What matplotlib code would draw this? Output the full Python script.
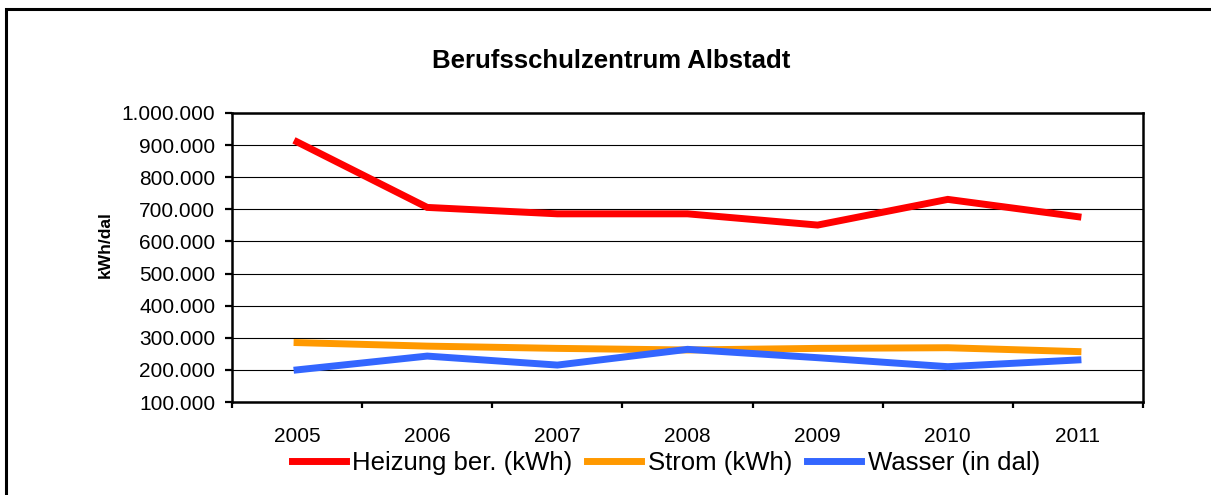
"""Verbrauchswerte Berufsschulzentrum Albstadt 2005-2011.

Erzeugt das Liniendiagramm als out.png.
"""

import matplotlib

matplotlib.use("Agg")

import matplotlib.pyplot as plt
from matplotlib.patches import Rectangle
from matplotlib.ticker import FixedLocator, FuncFormatter


YEARS = ["2005", "2006", "2007", "2008", "2009", "2010", "2011"]

HEIZUNG = [910000, 706000, 686000, 686000, 651000, 731000, 677000]
STROM = [285000, 274000, 267000, 262000, 267000, 269000, 257000]
WASSER = [200000, 243000, 215000, 264000, 238000, 210000, 231000]

SERIES = [
    ("Heizung ber. (kWh)", HEIZUNG, "#FF0000"),
    ("Strom (kWh)", STROM, "#FF9900"),
    ("Wasser (in dal)", WASSER, "#3366FF"),
]

plt.rcParams["font.family"] = ["Liberation Sans", "DejaVu Sans"]


def german_thousands(value, _pos):
    """Formatiert Zahlen mit Punkt als Tausendertrennzeichen."""
    return f"{int(round(value)):,}".replace(",", ".")


def main() -> None:
    fig = plt.figure(figsize=(12.11, 4.95), dpi=100)
    ax = fig.add_axes([232 / 1211, 1 - 402 / 495, 911 / 1211, 289 / 495])

    x = list(range(len(YEARS)))
    handles = []
    for label, values, color in SERIES:
        (line,) = ax.plot(x, values, color=color, linewidth=5,
                          solid_joinstyle="miter", label=label)
        handles.append(line)

    ax.set_xlim(-0.5, len(YEARS) - 0.5)
    ax.set_ylim(100000, 1000000)
    ax.set_yticks(range(100000, 1000001, 100000))
    ax.yaxis.set_major_formatter(FuncFormatter(german_thousands))
    ax.yaxis.grid(True, color="black", linewidth=0.8)
    ax.set_axisbelow(True)

    # Striche zwischen den Jahren, Beschriftung in der Mitte
    ax.xaxis.set_major_locator(FixedLocator([i - 0.5 for i in range(len(YEARS) + 1)]))
    ax.xaxis.set_minor_locator(FixedLocator(x))
    ax.set_xticklabels([], minor=False)
    ax.set_xticklabels(YEARS, minor=True)
    ax.tick_params(axis="x", which="major", direction="out", length=4.5,
                   width=1.6, color="black")
    ax.tick_params(axis="x", which="minor", length=0, pad=18, labelsize=15)
    ax.tick_params(axis="y", direction="out", length=5, width=1.6,
                   pad=7, labelsize=15)

    for spine in ax.spines.values():
        spine.set_linewidth(1.8)
        spine.set_color("black")

    ax.set_ylabel("kWh/dal", fontsize=12.5, fontweight="bold")
    ax.yaxis.set_label_coords(-0.131, 0.545)

    fig.text(611 / 1211, 1 - 61 / 495, "Berufsschulzentrum Albstadt",
             ha="center", va="center", fontsize=18.5, fontweight="bold")

    fig.legend(handles=handles, loc="center", ncol=3,
               bbox_to_anchor=(666 / 1211, 1 - 463 / 495),
               frameon=False, fontsize=18.5, handlelength=2.1,
               handletextpad=0.27, columnspacing=0.57, borderpad=0)

    # Rahmen um das Diagramm, rechts und unten angeschnitten
    border = Rectangle((6 / 1211, -0.1), 1.1, 1.1 - 9 / 495,
                       transform=fig.transFigure, fill=False,
                       edgecolor="black", linewidth=2.2)
    fig.patches.append(border)

    fig.savefig("out.png", dpi=100)
    plt.close(fig)


if __name__ == "__main__":
    main()
